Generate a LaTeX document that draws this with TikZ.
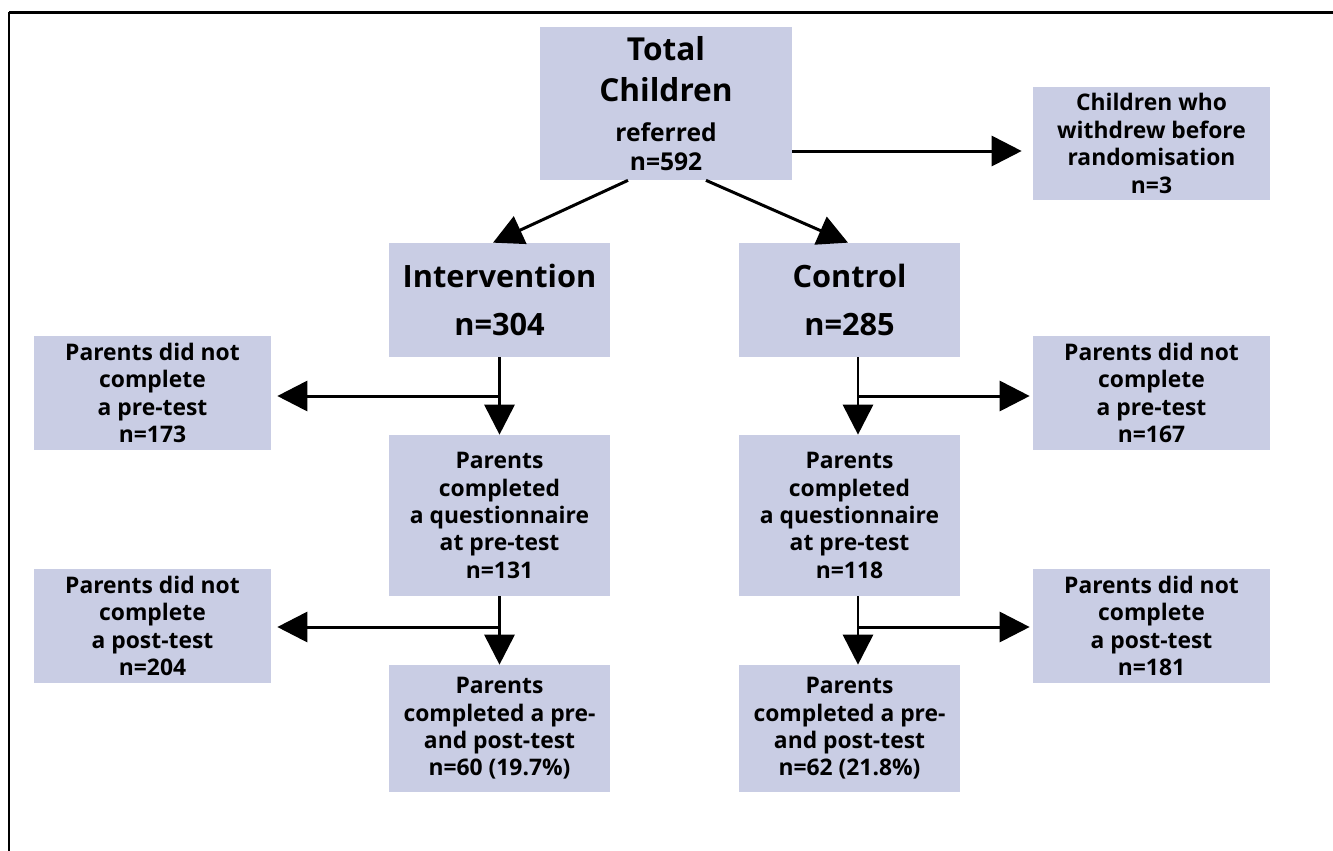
\documentclass[tikz,border=0pt]{standalone}
\usepackage{fontspec}
\setmainfont{Open Sans}
\usepackage{tikz}
\usetikzlibrary{arrows.meta}

\definecolor{boxfill}{HTML}{C9CDE4}

\tikzset{
  box/.style={fill=boxfill, align=center, inner sep=0pt,
    font=\bfseries\fontsize{13}{15.6}\selectfont},
  side/.style={box, minimum width=4.74cm, minimum height=2.28cm},
  mid/.style={box, minimum width=4.42cm},
  big/.style={font=\bfseries\fontsize{17.5}{23.2}\selectfont},
  arr/.style={line width=1.7pt, -{Triangle[length=0.6cm, width=0.6cm]}}
}
\newcommand{\midtxt}[1]{{\fontsize{14}{15.6}\selectfont #1}}

\begin{document}
\begin{tikzpicture}[x=0.02cm, y=-0.02cm]
\useasboundingbox (0,0) rectangle (1333,850);
\draw[line width=1.7pt] (9,12) -- (1345,12);
\draw[line width=1.7pt] (9,12) -- (9,862);

% top
\node[box, minimum width=5.04cm, minimum height=3.06cm,
  font=\bfseries\fontsize{18}{23.2}\selectfont] (total) at (666,103.5)
  {Total\\Children\\[0pt]\midtxt{referred}\\[-7pt]\midtxt{n=592}};
\node[side, minimum height=2.26cm] (withdrew) at (1151.5,143.5)
  {Children who\\withdrew before\\randomisation\\n=3};

% groups
\node[mid, minimum height=2.28cm, big] (interv) at (499.5,300) {Intervention\\[4pt]n=304};
\node[mid, minimum height=2.28cm, big] (ctrl) at (849.5,300) {Control\\[4pt]n=285};

% pre-test
\node[side] (lpre) at (152.5,393) {Parents did not\\complete\\a pre-test\\n=173};
\node[side] (rpre) at (1151.5,393) {Parents did not\\complete\\a pre-test\\n=167};
\node[mid, minimum height=3.22cm] (iq) at (499.5,515.5)
  {Parents\\completed\\a questionnaire\\at pre-test\\n=131};
\node[mid, minimum height=3.22cm] (cq) at (849.5,515.5)
  {Parents\\completed\\a questionnaire\\at pre-test\\n=118};

% post-test
\node[side] (lpost) at (152.5,626) {Parents did not\\complete\\a post-test\\n=204};
\node[side] (rpost) at (1151.5,626) {Parents did not\\complete\\a post-test\\n=181};
\node[mid, minimum height=2.54cm] (ifin) at (499.5,728.5)
  {Parents\\completed a pre-\\and post-test\\n=60 (19.7\%)};
\node[mid, minimum height=2.54cm] (cfin) at (849.5,728.5)
  {Parents\\completed a pre-\\and post-test\\n=62 (21.8\%)};

% arrows
\draw[arr, shorten >=0.22cm] (total.east |- 0,151) -- (withdrew.west |- 0,151);
\draw[arr] (total.south -| 628,0) -- (interv.north -| 493,0);
\draw[arr] (total.south -| 706,0) -- (ctrl.north -| 848,0);

\draw[arr] (interv.south) -- (iq.north);
\draw[arr, shorten >=0.12cm] (interv.south |- 0,396) -- (lpre.east |- 0,396);
\draw[arr] ([xshift=0.17cm]ctrl.south) -- ([xshift=0.17cm]cq.north);
\draw[arr, shorten >=0.06cm] ([xshift=0.17cm]ctrl.south |- 0,396) -- (rpre.west |- 0,396);

\draw[arr] (iq.south) -- (ifin.north);
\draw[arr, shorten >=0.12cm] (iq.south |- 0,627) -- (lpost.east |- 0,627);
\draw[arr] ([xshift=0.17cm]cq.south) -- ([xshift=0.17cm]cfin.north);
\draw[arr, shorten >=0.06cm] ([xshift=0.17cm]cq.south |- 0,627) -- (rpost.west |- 0,627);
\end{tikzpicture}
\end{document}
